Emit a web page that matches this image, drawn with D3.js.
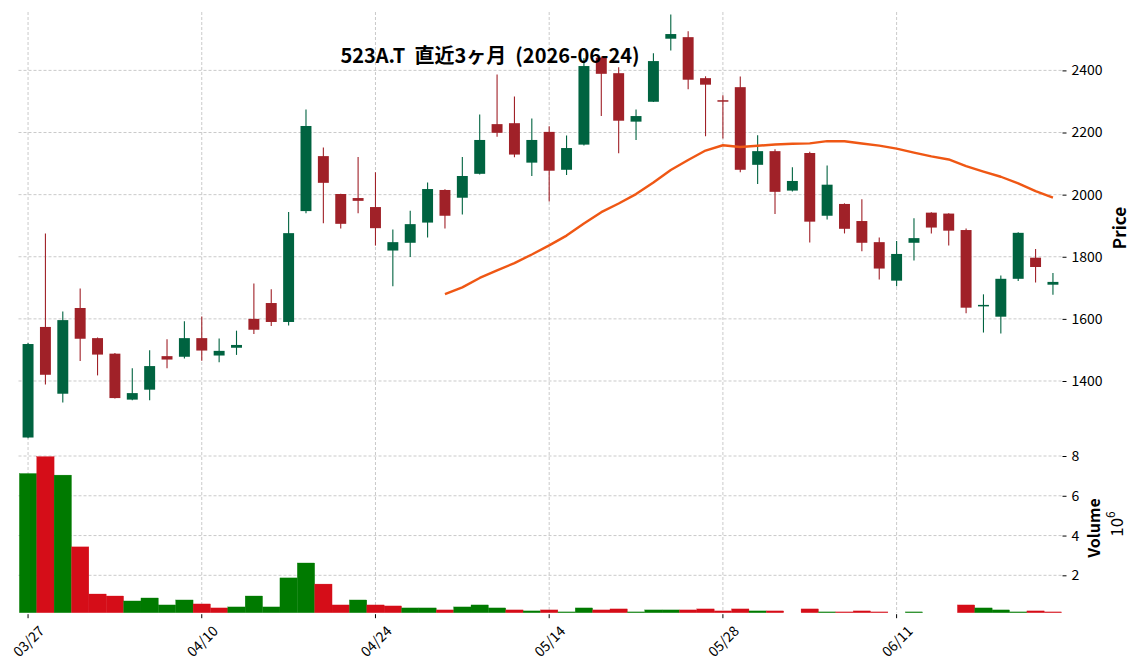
<!DOCTYPE html>
<html>
<head>
<meta charset="utf-8">
<script src="https://cdn.jsdelivr.net/npm/d3@7"></script>
<style>
    body { margin: 0; background: #fff; }
    text { font-family: "Noto Sans CJK JP", "Noto Sans", sans-serif; fill: #000; }
</style>
</head>
<body>
<div id="chart"></div>
<script>

// 523A.T daily, last 3 months
const dates = ["03/27","03/30","03/31","04/01","04/02","04/03","04/06","04/07","04/08","04/09",
    "04/10","04/13","04/14","04/15","04/16","04/17","04/20","04/21","04/22","04/23",
    "04/24","04/27","04/28","04/30","05/01","05/07","05/08","05/11","05/12","05/13",
    "05/14","05/15","05/18","05/19","05/20","05/21","05/22","05/25","05/26","05/27",
    "05/28","05/29","06/01","06/02","06/03","06/04","06/05","06/08","06/09","06/10",
    "06/11","06/12","06/15","06/16","06/17","06/18","06/19","06/22","06/23","06/24"];

const opens = [1218,1574,1359,1635,1538,1488,1340,1372,1480,1478,
    1538,1482,1507,1600,1651,1590,1947,2124,2002,1989,
    1960,1820,1845,1910,2015,1990,2067,2227,2230,2103,
    2202,2080,2161,2441,2391,2235,2299,2502,2507,2375,
    2304,2346,2096,2140,2013,2134,1932,1970,1915,1847,
    1723,1845,1942,1939,1886,1642,1607,1729,1797,1710];
const highs = [1522,1875,1624,1698,1540,1490,1441,1499,1534,1592,
    1608,1537,1562,1714,1695,1944,2274,2152,2003,2121,
    2072,1888,1948,2039,2017,2121,2258,2387,2316,2245,
    2220,2190,2440,2445,2410,2274,2455,2580,2526,2381,
    2320,2380,2191,2146,2088,2138,2094,1972,1985,1862,
    1851,1924,1943,1940,1891,1679,1740,1879,1825,1748];
const lows = [1216,1389,1331,1464,1418,1344,1338,1338,1441,1472,
    1465,1460,1484,1551,1577,1579,1940,1908,1891,1940,
    1836,1705,1799,1862,1891,1936,2065,2186,2120,2060,
    1978,2063,2158,2253,2133,2176,2298,2464,2339,2188,
    2181,2072,2034,1938,2010,1846,1920,1875,1818,1727,
    1705,1788,1875,1836,1618,1556,1553,1722,1717,1678];
const closes = [1519,1420,1596,1536,1485,1345,1361,1448,1469,1538,
    1498,1497,1516,1565,1590,1876,2221,2038,1906,1980,
    1892,1847,1905,2018,1932,2060,2176,2199,2129,2176,
    2077,2150,2414,2389,2238,2253,2430,2517,2370,2354,
    2302,2080,2140,2009,2044,1913,2032,1890,1845,1762,
    1809,1860,1894,1884,1636,1645,1729,1877,1767,1719];
// volume in millions of shares
const volumes = [7.12,7.97,7.04,3.43,1.06,0.96,0.71,0.86,0.51,0.76,
    0.56,0.36,0.41,0.96,0.41,1.87,2.62,1.56,0.51,0.76,
    0.51,0.46,0.36,0.36,0.26,0.41,0.51,0.36,0.26,0.21,
    0.26,0.16,0.36,0.26,0.31,0.16,0.26,0.26,0.26,0.31,
    0.21,0.31,0.21,0.21,0,0.31,0.16,0.16,0.21,0.16,
    0,0.16,0,0,0.51,0.36,0.26,0.16,0.21,0.16];

const maPeriod = 25;
const priceTicks = [1400, 1600, 1800, 2000, 2200, 2400];
const volumeTicks = [2, 4, 6, 8];
const xTickIdx = [0, 10, 20, 30, 40, 50];
const title = "523A.T  直近3ヶ月  (2026-06-24)";

const upColor = "#006340", downColor = "#a02128";
const volUp = "#007a00", volDown = "#d50d18";
const maColor = "#ef5714";
const gridColor = "#bdbdbd";

const width = 1137, height = 670;

const data = dates.map((d, i) => ({
    i: i, date: d, open: opens[i], high: highs[i], low: lows[i], close: closes[i], volume: volumes[i]
}));

// 25 day moving average of the close
let ma = [];
data.forEach((d, i) => {
    if (i >= maPeriod - 1) {
        let s = d3.sum(closes.slice(i - maPeriod + 1, i + 1));
        ma.push({ i: i, value: s / maPeriod });
    }
});

const svg = d3.select("#chart")
    .append("svg")
    .attr("width", width)
    .attr("height", height);

svg.append("rect").attr("width", width).attr("height", height).attr("fill", "#fff");

const x = d3.scaleLinear()
    .domain([-0.55, data.length - 0.45])
    .range([18.5, 1062.5]);
const step = x(1) - x(0);

const y = d3.scaleLinear()
    .domain([1210, 2588])
    .range([440, 12]);

const yv = d3.scaleLinear()
    .domain([0.12, 8.77])
    .range([612.7, 440.7]);

const left = x.range()[0], right = x.range()[1];

// grid
const grid = svg.append("g")
    .attr("stroke", gridColor)
    .attr("stroke-width", 0.8)
    .attr("stroke-dasharray", "3,2");
grid.selectAll(".vg")
    .data(xTickIdx)
    .join("line")
    .attr("x1", d => x(d)).attr("x2", d => x(d))
    .attr("y1", 12).attr("y2", 612.7);
grid.selectAll(".pg")
    .data(priceTicks)
    .join("line")
    .attr("x1", left).attr("x2", right)
    .attr("y1", d => y(d)).attr("y2", d => y(d));
grid.selectAll(".vvg")
    .data(volumeTicks)
    .join("line")
    .attr("x1", left).attr("x2", right)
    .attr("y1", d => yv(d)).attr("y2", d => yv(d));

// volume bars
svg.append("g")
    .selectAll("rect")
    .data(data)
    .join("rect")
    .attr("x", d => x(d.i) - step / 2)
    .attr("width", step)
    .attr("y", d => yv(Math.max(d.volume, 0.12)))
    .attr("height", d => Math.max(0, yv(0.12) - yv(Math.max(d.volume, 0.12))))
    .attr("fill", d => (d.i === 0 || d.close >= closes[d.i - 1]) ? volUp : volDown)
    .attr("stroke", d => (d.i === 0 || d.close >= closes[d.i - 1]) ? volUp : volDown)
    .attr("stroke-width", 0.3);

// candles
const candle = svg.append("g")
    .selectAll("g")
    .data(data)
    .join("g");
candle.append("line")
    .attr("x1", d => x(d.i)).attr("x2", d => x(d.i))
    .attr("y1", d => y(d.high)).attr("y2", d => y(d.low))
    .attr("stroke", d => d.close >= d.open ? upColor : downColor)
    .attr("stroke-width", 1.1);
candle.append("rect")
    .attr("x", d => x(d.i) - step * 0.315)
    .attr("width", step * 0.63)
    .attr("y", d => y(Math.max(d.open, d.close)))
    .attr("height", d => Math.max(1.5, Math.abs(y(d.open) - y(d.close))))
    .attr("fill", d => d.close >= d.open ? upColor : downColor);

// moving average
svg.append("path")
    .datum(ma)
    .attr("fill", "none")
    .attr("stroke", maColor)
    .attr("stroke-width", 2.4)
    .attr("stroke-linejoin", "round")
    .attr("d", d3.line()
        .x(d => x(d.i))
        .y(d => y(d.value)));

// right axes
const priceAxis = svg.append("g")
    .attr("transform", `translate(${right},0)`)
    .call(d3.axisRight(y).tickValues(priceTicks).tickFormat(d3.format("d")).tickSize(4).tickPadding(5));
const volAxis = svg.append("g")
    .attr("transform", `translate(${right},0)`)
    .call(d3.axisRight(yv).tickValues(volumeTicks).tickFormat(d3.format("d")).tickSize(4).tickPadding(5));
[priceAxis, volAxis].forEach(a => {
    a.select(".domain").remove();
    a.selectAll("text").style("font-size", "14px").attr("fill", "#000");
    a.selectAll("line").attr("stroke", "#000");
});

// x axis
const xAxis = svg.append("g")
    .attr("transform", "translate(0,612.7)");
xAxis.selectAll("line")
    .data(xTickIdx)
    .join("line")
    .attr("x1", d => x(d)).attr("x2", d => x(d))
    .attr("y1", 1.5).attr("y2", 5.5)
    .attr("stroke", "#000");
xAxis.selectAll("text")
    .data(xTickIdx)
    .join("text")
    .attr("transform", d => `translate(${x(d)},28) rotate(-45)`)
    .attr("text-anchor", "middle")
    .attr("dominant-baseline", "central")
    .style("font-size", "14px")
    .text(d => dates[d]);

// labels
svg.append("text")
    .attr("transform", "translate(1118,228) rotate(-90)")
    .attr("text-anchor", "middle")
    .attr("dominant-baseline", "central")
    .style("font-size", "17px")
    .style("font-weight", "bold")
    .text("Price");
svg.append("text")
    .attr("transform", "translate(1093,528) rotate(-90)")
    .attr("text-anchor", "middle")
    .attr("dominant-baseline", "central")
    .style("font-size", "16px")
    .style("font-weight", "bold")
    .text("Volume");
const off = svg.append("text")
    .attr("transform", "translate(1115,524) rotate(-90)")
    .attr("text-anchor", "middle")
    .attr("dominant-baseline", "central")
    .style("font-size", "17px");
off.append("tspan").text("10");
off.append("tspan").attr("dy", "-0.5em").style("font-size", "12px").text("6");

// title
svg.append("text")
    .attr("x", 490)
    .attr("y", 63)
    .attr("text-anchor", "middle")
    .style("font-size", "20px")
    .style("font-weight", "bold")
    .style("white-space", "pre")
    .text(title);

svg.node();
</script>
</body>
</html>
